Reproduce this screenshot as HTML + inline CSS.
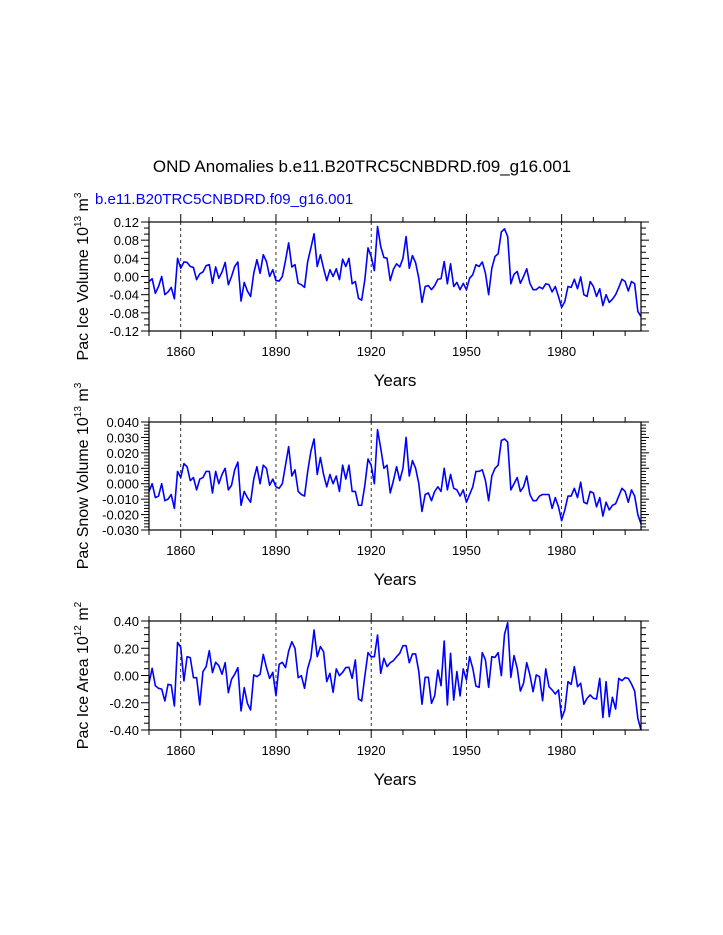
<!DOCTYPE html>
<html><head><meta charset="utf-8"><style>
html,body{margin:0;padding:0;background:#fff;}
svg{display:block;font-family:"Liberation Sans",sans-serif;}
</style></head><body>
<svg id="chart" width="723" height="935" xmlns="http://www.w3.org/2000/svg">
<text x="362" y="172" font-size="17" text-anchor="middle">OND Anomalies b.e11.B20TRC5CNBDRD.f09_g16.001</text>
<text x="95" y="204" font-size="15" fill="#0000ff">b.e11.B20TRC5CNBDRD.f09_g16.001</text>
</svg>
<script>
const startYear = 1850;
const endYear = 2005;
const iceVolume = [-0.011,-0.005,-0.037,-0.022,0.0,-0.04,-0.034,-0.024,-0.049,0.04,
0.018,0.032,0.031,0.022,0.020,-0.007,0.006,0.01,0.024,0.026,
-0.015,0.021,-0.004,0.01,0.031,-0.018,0.0,0.022,0.032,-0.054,
-0.013,-0.032,-0.044,0.007,0.037,0.007,0.048,0.033,0.0,0.015,
-0.009,-0.01,0.0,0.035,0.074,0.021,0.026,-0.015,-0.018,-0.024,
0.033,0.063,0.094,0.022,0.048,0.018,-0.009,0.015,0.0,0.017,
-0.007,0.038,0.022,0.04,-0.016,-0.011,-0.048,-0.052,-0.007,0.063,
0.044,0.013,0.11,0.066,0.042,0.04,
-0.009,0.016,0.028,0.021,0.04,0.088,0.018,0.046,0.03,-0.004,
-0.057,-0.022,-0.02,-0.029,-0.02,-0.006,-0.005,0.033,-0.016,0.028,
-0.022,-0.013,-0.029,-0.015,-0.029,-0.004,0.004,0.026,0.022,0.032,
0.007,-0.04,0.018,0.044,0.05,0.098,0.105,0.088,-0.016,0.005,
0.011,-0.015,0.0,0.017,-0.015,-0.029,-0.029,-0.023,-0.027,-0.016,
-0.018,-0.034,-0.022,-0.044,-0.068,-0.055,-0.022,-0.024,-0.006,-0.027,
-0.001,-0.04,-0.044,-0.011,-0.022,-0.044,-0.027,-0.064,-0.04,-0.057,
-0.05,-0.04,-0.024,-0.006,-0.011,-0.032,-0.011,-0.016,-0.077,-0.088];
const snowVolume = [-0.005,0.0,-0.009,-0.008,0.0,-0.011,-0.01,-0.007,-0.016,0.008,
0.004,0.013,0.011,0.002,0.004,-0.004,0.003,0.004,0.008,0.008,
-0.006,0.008,0.0,0.006,0.01,-0.004,-0.001,0.009,0.014,-0.014,
-0.005,-0.009,-0.012,0.003,0.011,0.0,0.012,0.01,-0.001,0.003,
-0.002,-0.003,0.0,0.012,0.024,0.005,0.009,-0.005,-0.007,-0.008,
0.008,0.021,0.029,0.006,0.017,0.006,-0.002,0.006,0.0,0.005,
-0.005,0.012,0.003,0.012,-0.005,-0.005,-0.014,-0.014,-0.001,0.016,
0.012,0.0,0.035,0.023,0.01,0.012,
-0.006,0.002,0.011,0.002,0.01,0.03,0.005,0.015,0.01,0.0,
-0.018,-0.007,-0.006,-0.011,-0.005,-0.002,-0.005,0.01,-0.004,0.006,
-0.003,-0.004,-0.008,-0.004,-0.012,-0.007,-0.002,0.008,0.008,0.009,
0.002,-0.011,0.005,0.01,0.012,0.028,0.029,0.027,-0.004,0.0,
0.004,-0.005,-0.002,0.005,-0.007,-0.011,-0.011,-0.008,-0.007,-0.007,
-0.007,-0.016,-0.009,-0.015,-0.024,-0.017,-0.008,-0.008,-0.003,-0.009,
0.001,-0.012,-0.013,-0.005,-0.006,-0.015,-0.009,-0.021,-0.012,-0.017,
-0.014,-0.013,-0.008,-0.003,-0.005,-0.012,-0.004,-0.008,-0.02,-0.026];
const iceArea = [-0.057,0.053,-0.075,-0.094,-0.1,-0.187,-0.065,-0.07,-0.224,0.243,
0.207,-0.04,0.138,0.131,-0.016,-0.016,-0.216,0.029,0.065,0.182,
0.021,0.097,0.072,0.009,0.094,-0.126,-0.028,0.009,0.058,-0.26,
-0.089,-0.204,-0.253,0.004,-0.008,0.009,0.155,0.058,-0.021,0.023,
-0.148,0.082,0.097,0.058,0.18,0.248,0.199,-0.016,-0.001,-0.094,
0.053,0.131,0.334,0.138,0.212,0.175,-0.045,0.016,-0.123,0.048,
-0.001,0.023,0.058,0.06,-0.021,0.114,-0.172,-0.187,-0.004,0.168,
0.138,0.138,0.297,0.016,0.126,0.065,
0.094,0.109,0.138,0.163,0.219,0.219,0.094,0.158,0.158,0.029,
-0.211,-0.013,-0.013,-0.204,-0.148,0.04,-0.075,0.253,-0.216,0.163,
-0.18,0.029,-0.15,0.048,-0.033,0.138,0.053,-0.077,-0.087,0.168,
0.114,-0.087,0.138,0.133,0.168,-0.001,0.302,0.388,-0.013,0.146,
0.053,-0.114,-0.057,0.094,0.004,-0.119,0.004,-0.008,-0.185,0.048,
-0.082,-0.106,-0.136,-0.106,-0.314,-0.253,-0.045,-0.065,0.065,-0.082,
-0.057,-0.211,-0.168,-0.143,-0.168,-0.172,-0.021,-0.309,-0.045,-0.302,
-0.16,-0.246,-0.021,-0.038,-0.016,-0.021,-0.062,-0.114,-0.314,-0.4];
const xMajorTicks = [1860,1890,1920,1950,1980];
const iceVolTicks = ["0.12","0.08","0.04","0.00","-0.04","-0.08","-0.12"];
const snowVolTicks = ["0.040","0.030","0.020","0.010","0.000","-0.010","-0.020","-0.030"];
const iceAreaTicks = ["0.40","0.20","0.00","-0.20","-0.40"];

const NS="http://www.w3.org/2000/svg";
const svg=document.getElementById('chart');
function mk(tag,attrs,parent){const e=document.createElementNS(NS,tag);for(const k in attrs)e.setAttribute(k,attrs[k]);(parent||svg).appendChild(e);return e;}
const X0=149,X1=641;
function xs(y){return X0+(y-startYear)/(endYear-startYear)*(X1-X0);}

function panel(name,data,ticks,minorPerMajor,top,bot,labelParts){
  const g=mk('g',{});
  
  
  const yMax=parseFloat(ticks[0]),yMin=parseFloat(ticks[ticks.length-1]);
  const ys=v=>top+(yMax-v)/(yMax-yMin)*(bot-top);
  // dashed gridlines
  xMajorTicks.forEach(yr=>{
    const l=mk('line',{x1:xs(yr),x2:xs(yr),y1:top,y2:bot,stroke:'#000','stroke-width':0.8,'stroke-dasharray':'3,3'},g);
    
    
  });
  // x ticks
  for(let yr=1850;yr<=2000;yr+=10){
    const maj=xMajorTicks.includes(yr);const len=maj?8:5;const x=xs(yr);
    mk('line',{x1:x,x2:x,y1:top,y2:top-len,stroke:'#000','stroke-width':1},g);
    mk('line',{x1:x,x2:x,y1:bot,y2:bot+len,stroke:'#000','stroke-width':1},g);
  }
  xMajorTicks.forEach(yr=>{
    const t=mk('text',{x:xs(yr),y:bot+25,'font-size':13,'text-anchor':'middle'},g);
    t.textContent=yr;
    
    
  });
  // y ticks
  const n=ticks.length-1;
  for(let i=0;i<=n*minorPerMajor;i++){
    const y=top+i*(bot-top)/(n*minorPerMajor);const maj=i%minorPerMajor===0;const len=maj?8:5;
    mk('line',{x1:X0,x2:X0-len,y1:y,y2:y,stroke:'#000','stroke-width':1},g);
    mk('line',{x1:X1,x2:X1+len,y1:y,y2:y,stroke:'#000','stroke-width':1},g);
  }
  ticks.forEach((lab,i)=>{
    const t=mk('text',{x:X0-10,y:top+i*(bot-top)/n+5,'font-size':13,'text-anchor':'end'},g);
    t.textContent=lab;
    
    
  });
  // series
  const pts=data.map((v,i)=>xs(startYear+i).toFixed(2)+','+ys(v).toFixed(2)).join(' ');
  const pl=mk('polyline',{points:pts,fill:'none',stroke:'#0000ff','stroke-width':1.6,'stroke-linejoin':'round'},g);
  
  
  // frame
  const fr=mk('rect',{x:X0,y:top,width:X1-X0,height:bot-top,fill:'none',stroke:'#000','stroke-width':1.2},g);
  
  
  // x title
  const xt=mk('text',{x:395,y:bot+55,'font-size':17,'text-anchor':'middle'},g);
  xt.textContent='Years';
  
  
  // y title
  const cy=(top+bot)/2;
  const yt=mk('text',{x:0,y:0,'font-size':16,'text-anchor':'middle',transform:'translate(88,'+cy+') rotate(-90)'},g);
  
  
  labelParts.forEach(p=>{const s=mk('tspan',p[1]?{'font-size':10,dy:p[1]}:{'font-size':16,dy:p[2]||0},yt);s.textContent=p[0];});
}
panel('ice-volume',iceVolume,iceVolTicks,3,222,331,[['Pac Ice Volume 10'],['13',-7],[' m',null,7],['3',-7]]);
panel('snow-volume',snowVolume,snowVolTicks,5,422,530,[['Pac Snow Volume 10'],['13',-7],[' m',null,7],['3',-7]]);
panel('ice-area',iceArea,iceAreaTicks,4,621,730,[['Pac Ice Area 10'],['12',-7],[' m',null,7],['2',-7]]);
</script>
</body></html>
